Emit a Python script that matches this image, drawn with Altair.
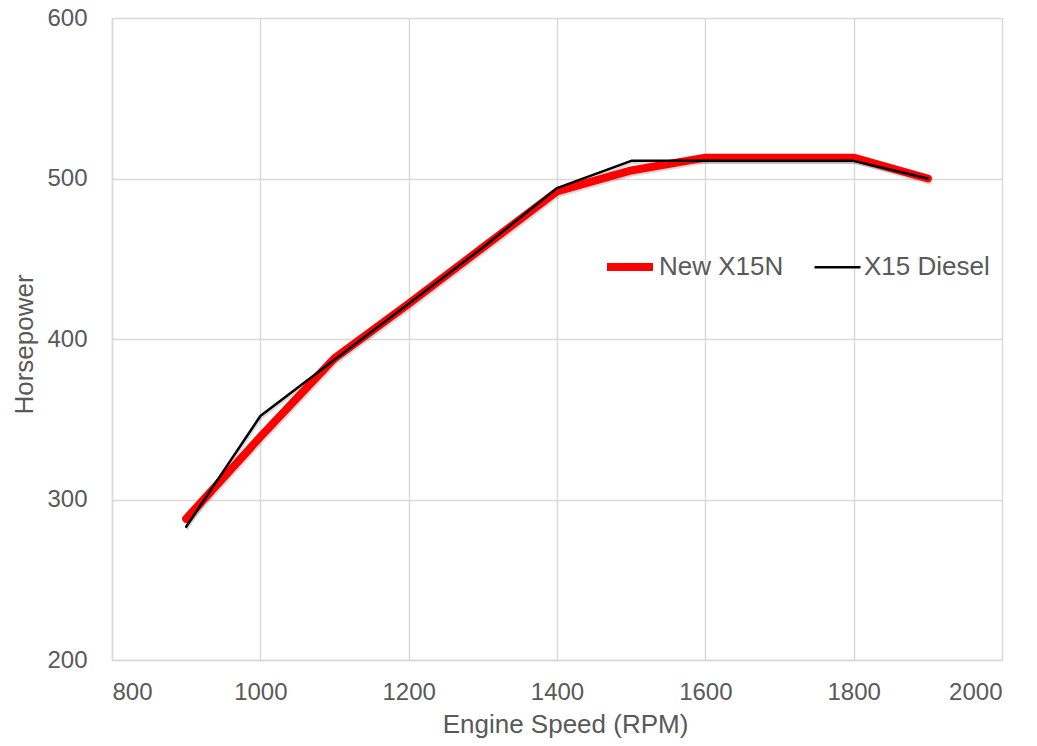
import altair as alt
import pandas as pd

rpm = [900, 1000, 1100, 1200, 1300, 1400, 1500, 1600, 1700, 1800, 1900]
hp_x15n = [288, 339, 388, 422, 457, 492, 505, 513, 513, 513, 500]
hp_diesel = [283, 352, 387, 422, 457, 494, 511, 511, 511, 511, 500]
series = ["New X15N", "X15 Diesel"]
series_colors = ["#ff0000", "#000000"]
series_widths = [8, 2.5]
x_ticks = [800, 1000, 1200, 1400, 1600, 1800, 2000]
y_ticks = [200, 300, 400, 500, 600]

rows = []
for s, vals in zip(series, [hp_x15n, hp_diesel]):
    for r, v in zip(rpm, vals):
        rows.append({"rpm": r, "hp": v, "series": s})
df = pd.DataFrame(rows)

FONT = "Liberation Sans"
TXT = "#595959"
GRID = "#d9d9d9"

x = alt.X("rpm:Q", scale=alt.Scale(domain=[800, 2000], nice=False),
          axis=alt.Axis(values=x_ticks, title="Engine Speed (RPM)", ticks=False,
                        labelPadding=20, titleY=72, titleX=453, titleBaseline="alphabetic",
                        format="d"))
y = alt.Y("hp:Q", scale=alt.Scale(domain=[200, 600], nice=False, zero=False),
          axis=alt.Axis(values=y_ticks, title="Horsepower", ticks=False,
                        labelPadding=25, titleX=-88, titleY=326, titleAngle=-90,
                        titleBaseline="middle", titleAlign="center", format="d"))

legend = alt.Legend(title=None, orient="none", legendX=491, legendY=222,
                    direction="horizontal", symbolType="stroke",
                    symbolSize=2116, symbolOpacity=1, labelFontSize=26, labelFont=FONT,
                    labelColor=TXT, columnPadding=25, labelOffset=2,
                    padding=0)
color_scale = alt.Scale(domain=series, range=series_colors)
width_scale = alt.Scale(domain=series, range=series_widths)

shadow = alt.Chart(df).mark_line(color="#000000", opacity=0.15, strokeCap="round",
                                 strokeJoin="round", yOffset=2, xOffset=1).encode(
    x=x, y=y, detail="series:N",
    strokeWidth=alt.StrokeWidth("series:N", scale=width_scale, legend=legend),
)

lines = alt.Chart(df).mark_line(strokeCap="round", strokeJoin="round").encode(
    x=x, y=y,
    color=alt.Color("series:N", scale=color_scale, legend=legend),
    strokeWidth=alt.StrokeWidth("series:N", scale=width_scale, legend=legend),
)

chart = alt.layer(shadow, lines).properties(
    width=890, height=642,
    autosize=alt.AutoSizeParams(type="none"),
    padding={"left": 104, "top": 10, "right": 27, "bottom": 78},
).configure_axis(
    labelFont=FONT, titleFont=FONT, labelFontSize=24, titleFontSize=26,
    labelColor=TXT, titleColor=TXT, titleFontWeight="normal",
    gridColor=GRID, gridWidth=1.5, domainColor=GRID, domainWidth=1.5,
).configure_view(stroke=None)

chart.save("out.html", embed_options={"renderer": "svg", "actions": False})
